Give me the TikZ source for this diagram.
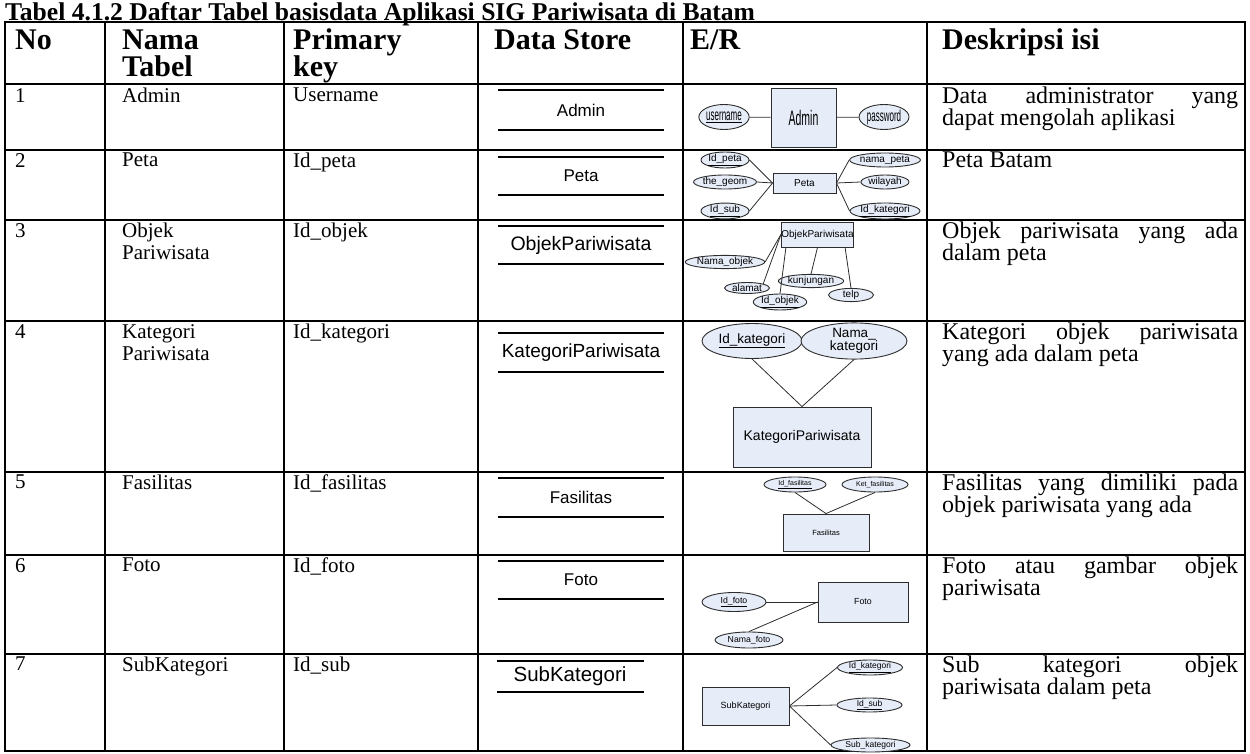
\documentclass[tikz,border=0pt]{standalone}
\usepackage{fontspec}
\setmainfont{Liberation Serif}
\newfontfamily\arialf{Liberation Sans}
\usetikzlibrary{shapes.geometric,calc}
\definecolor{erfill}{RGB}{230,236,248}
\definecolor{erline}{RGB}{45,45,45}
\newcommand{\fs}[1]{\fontsize{#1}{#1}\selectfont}
\newcommand{\cnd}[2]{\scalebox{0.5}[1]{\fs{#1}#2}}
\begin{document}
\begin{tikzpicture}[x=1pt,y=-1pt,
  ent/.style={draw=erline, fill=erfill, line width=0.9pt, inner sep=0pt, font=\arialf},
  att/.style={ellipse, draw=erline, fill=erfill, line width=0.9pt, inner sep=0pt, font=\arialf},
  lnk/.style={draw=erline, line width=0.8pt},
  grid/.style={line width=2.6pt},
  dsl/.style={line width=1.3pt},
  hd/.style={anchor=base west, font=\fs{30}\bfseries, inner sep=0pt},
  bd/.style={anchor=north west, font=\fontsize{21}{22}\selectfont, align=left, inner sep=0pt},
  dsc/.style={anchor=north west, font=\fontsize{24}{22}\selectfont, align=left, inner sep=0pt},
  ds/.style={font=\arialf\fs{17}, inner sep=0pt},
]
\useasboundingbox (0,0) rectangle (1250,754);
\node[anchor=base west, inner sep=0pt, font=\fs{25.6}\bfseries] (title) at (5,20.5) {Tabel 4.1.2 Daftar Tabel basisdata Aplikasi SIG Pariwisata di Batam};
% grid
\draw[grid] (5,22) rectangle (1245,751);
\foreach \y in {84,150,220,321,472,555,654} \draw[grid] (5,\y) -- (1245,\y);
\foreach \x in {105,284,478,683,927} \draw[grid] (\x,22) -- (\x,751);
% headers
\node[hd] (h1) at (15,50) {No};
\node[hd] (h2) at (122,50) {Nama};
\node[hd] (h2b) at (122,77) {Tabel};
\node[hd] (h3) at (293,50) {Primary};
\node[hd] (h3b) at (293,77) {key};
\node[hd] (h4) at (494,50) {Data Store};
\node[hd] (h5) at (690,50) {E/R};
\node[hd] (h6) at (942,50) {Deskripsi isi};
% column texts
\foreach \r/\y/\n/\t/\k in {1/88/a/Admin/Username, 2/153/b/Peta/Id\_peta, 3/223/c/Objek\\Pariwisata/Id\_objek, 4/324/d/Kategori\\Pariwisata/Id\_kategori, 5/475/e/Fasilitas/Id\_fasilitas, 6/558/f/Foto/Id\_foto, 7/657/g/SubKategori/Id\_sub}{
  \node[bd] (no\n) at (15,\y) {\r};
  \node[bd] (nm\n) at (122,\y) {\t};
  \node[bd] (pk\n) at (293,\y) {\k};
}
% descriptions
\newcommand{\jl}[1]{\makebox[296pt][s]{#1}}
\node[dsc] (d1) at (942,87) {\jl{Data administrator yang}\\dapat mengolah aplikasi};
\node[dsc] (d2) at (942,152) {Peta Batam};
\node[dsc] (d3) at (942,222) {\jl{Objek pariwisata yang ada}\\dalam peta};
\node[dsc] (d4) at (942,323) {\jl{Kategori objek pariwisata}\\yang ada dalam peta};
\node[dsc] (d5) at (942,474) {\jl{Fasilitas yang dimiliki pada}\\objek pariwisata yang ada};
\node[dsc] (d6) at (942,557) {\jl{Foto atau gambar objek}\\pariwisata};
\node[dsc] (d7) at (942,656) {\jl{Sub kategori objek}\\pariwisata dalam peta};
% data store
\foreach \a/\b/\t/\n/\f in {90/130/Admin/1/17, 157/195/Peta/2/17, 226/264/ObjekPariwisata/3/19.5, 333/372/KategoriPariwisata/4/19, 478/517/Fasilitas/5/17, 561/599/Foto/6/17}{
  \draw[dsl] (498,\a) -- (664,\a);
  \draw[dsl] (498,\b) -- (664,\b);
  \node[ds, font=\arialf\fs{\f}] (ds\n) at (581,{(\a+\b)/2}) {\t};
}
\draw[line width=2.4pt] (497,661) -- (644,661);
\draw[line width=2.4pt] (497,692) -- (644,692);
\node[ds, font=\arialf\fs{20.5}] (ds7) at (570,676.5) {SubKategori};
% ---- E/R row 1
\node[ent, minimum width=65, minimum height=59] (admin) at (803.5,117.5) {\cnd{21}{Admin}};
\node[att, minimum width=46, minimum height=25] (user) at (724,117) {\cnd{16}{\underline{username}}};
\node[att, minimum width=50, minimum height=25] (pass) at (884,117) {\cnd{16}{password}};
\draw[lnk] (user) -- (admin);
\draw[lnk] (admin) -- (pass);
% ---- row 2
\begin{scope}[every node/.append style={font=\arialf\fs{6.5}}]
\node[ent, minimum width=63, minimum height=20] (peta) at (804.5,183) {Peta};
\node[att, minimum width=48, minimum height=14] (idpeta) at (725,160) {\underline{Id\_peta}};
\node[att, minimum width=48, minimum height=14] (geom) at (725,182) {the\_geom};
\node[att, minimum width=48, minimum height=14] (idsub) at (725,211) {\underline{Id\_sub}};
\node[att, minimum width=48, minimum height=14] (nmpeta) at (885,160) {nama\_peta};
\node[att, minimum width=48, minimum height=14] (wil) at (885,182) {wilayah};
\node[att, minimum width=48, minimum height=14] (idkat2) at (885,211) {\underline{Id\_kategori}};
\end{scope}
\foreach \e in {idpeta,geom,idsub} \draw[lnk] (\e.east) -- (peta.west);
\foreach \e in {nmpeta,wil,idkat2} \draw[lnk] (peta.east) -- (\e.west);
% ---- row 3
\begin{scope}[every node/.append style={font=\arialf\fs{6}}]
\node[ent, minimum width=61, minimum height=25] (obj) at (817.5,234.5) {ObjekPariwisata};
\node[att, minimum width=46, minimum height=11] (nmobj) at (725,262) {Nama\_objek};
\node[att, minimum width=45, minimum height=11] (alamat) at (747,288) {alamat};
\node[att, minimum width=45, minimum height=10] (idobj) at (780,302) {\underline{Id\_objek}};
\node[att, minimum width=45, minimum height=11] (kunj) at (811,281) {kunjungan};
\node[att, minimum width=45, minimum height=12] (telp) at (851,295) {telp};
\end{scope}
\draw[lnk] (nmobj.east) -- (obj.west);
\draw[lnk] (alamat.north east) -- (obj.west);
\draw[lnk] (idobj.north) -- ($(obj.south west)+(5,0)$);
\draw[lnk] (kunj.north) -- ($(obj.south)+(0,0)$);
\draw[lnk] (telp.north) -- ($(obj.south east)+(-9,0)$);
% ---- row 4
\node[att, minimum width=100, minimum height=35, font=\arialf\fs{13.5}] (idkat) at (752,341) {\underline{Id\_kategori}};
\node[att, minimum width=106, minimum height=35, font=\arialf\fs{13.5}, align=center] (nmkat) at (854,341) {Nama\_\\kategori};
\node[ent, minimum width=138, minimum height=60, font=\arialf\fs{14}] (kp) at (802,437) {KategoriPariwisata};
\draw[lnk] (idkat.south) -- (kp.north);
\draw[lnk] (nmkat.south) -- (kp.north);
% ---- row 5
\node[att, minimum width=62, minimum height=15, font=\arialf\fs{7}] (idfas) at (795,484.5) {\underline{Id\_fasilitas}};
\node[att, minimum width=66, minimum height=15, font=\arialf\fs{7}] (ketfas) at (875,484.5) {Ket\_fasilitas};
\node[ent, minimum width=86, minimum height=37, font=\arialf\fs{7.5}] (fas) at (826,532.5) {Fasilitas};
\draw[lnk] (idfas.south) -- (fas.north);
\draw[lnk] (ketfas.south) -- (fas.north);
% ---- row 6
\node[ent, minimum width=90, minimum height=40, font=\arialf\fs{8.8}] (foto) at (863,602) {Foto};
\node[att, minimum width=64, minimum height=19, font=\arialf\fs{8.7}] (idfoto) at (734,602) {\underline{Id\_foto}};
\node[att, minimum width=68, minimum height=16, font=\arialf\fs{8.7}] (nmfoto) at (749,640) {Nama\_foto};
\draw[lnk] (idfoto.east) -- (foto.west);
\draw[lnk] (nmfoto.north) -- (foto.west);
% ---- row 7
\node[ent, minimum width=87, minimum height=38, font=\arialf\fs{9}] (subk) at (745.5,706) {SubKategori};
\node[att, minimum width=65, minimum height=15, font=\arialf\fs{8.5}] (idkat7) at (870,667.5) {\underline{Id\_kategori}};
\node[att, minimum width=65, minimum height=14, font=\arialf\fs{8.5}] (idsub7) at (869.5,705) {\underline{Id\_sub}};
\node[att, minimum width=79, minimum height=14, font=\arialf\fs{8.5}] (subkat) at (870.5,745) {Sub\_kategori};
\foreach \e in {idkat7,idsub7,subkat} \draw[lnk] (subk.east) -- (\e.west);
\end{tikzpicture}
\end{document}
